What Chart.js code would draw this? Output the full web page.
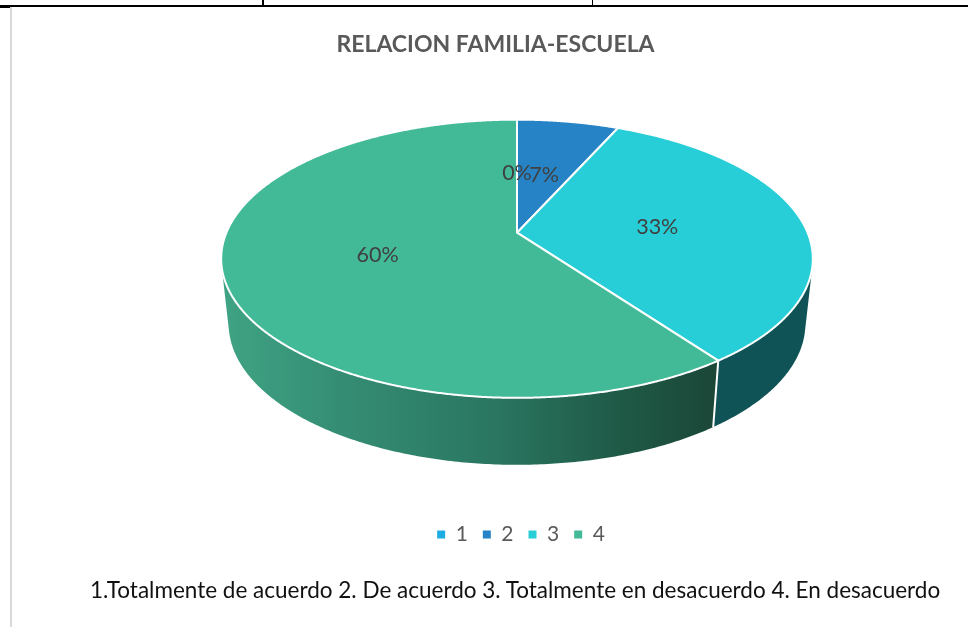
<!DOCTYPE html>
<html>
<head>
<meta charset="utf-8">
<style>
html,body{margin:0;padding:0;background:#fff;width:968px;height:627px;overflow:hidden}
.box{position:absolute}
#wrap{position:absolute;left:0;top:0;width:968px;height:627px}
#note{position:absolute;left:90px;top:575px;font:22.5px Lato,sans-serif;color:#111;white-space:nowrap;line-height:30px}
</style>
<script src="https://cdn.jsdelivr.net/npm/chart.js@4"></script>
</head>
<body>
<div class="box" style="left:0;top:5px;width:968px;height:1.5px;background:#000"></div>
<div class="box" style="left:0;top:5px;width:10px;height:2.5px;background:#000"></div>
<div class="box" style="left:262px;top:0;width:1.5px;height:6px;background:#000"></div>
<div class="box" style="left:591.5px;top:0;width:1.5px;height:6px;background:#000"></div>
<div class="box" style="left:9.5px;top:7px;width:2px;height:620px;background:#d9d9d9"></div>
<div id="wrap"><canvas id="c" width="968" height="627"></canvas></div>
<div id="note">1.Totalmente de acuerdo 2. De acuerdo 3. Totalmente en desacuerdo 4. En desacuerdo</div>
<script>
const categories = ['1', '2', '3', '4'];
const counts = [0, 2, 10, 18];
const topColors = ['#1CADE4', '#2683C6', '#27CED7', '#42BA97'];
const titleText = 'RELACION FAMILIA-ESCUELA';

const FONT = 'Lato, sans-serif';
// perspective tilt of the disc, as ratios of the library's pie radius
const REF_R = 196, REF_CY = 315;
const TILT = {
  k: -0.187,
  apex: (232 - REF_CY) / REF_R,
  top: { a: 290.3 / REF_R, b: 134.1 / REF_R, c: 0 },
  bottom: { a: 283 / REF_R, b: 124.0 / REF_R, c: 64.5 / REF_R }
};
function project(el, disc, angle, r) {
  const ux = Math.cos(angle) * r, uy = Math.sin(angle) * r;
  const w = 1 + TILT.k * uy, R = el.outerRadius;
  return {
    x: el.x + R * disc.a * ux / w,
    y: el.y + R * TILT.apex + R * (disc.b * uy + disc.c * r) / w
  };
}
function rimPoints(el, disc, a0, a1, step) {
  const n = Math.max(1, Math.ceil(Math.abs(a1 - a0) / step)), pts = [];
  for (let i = 0; i <= n; i++) pts.push(project(el, disc, a0 + (a1 - a0) * i / n, 1));
  return pts;
}
function sideFill(ctx, el, i) {
  if (i === 3) {
    const g = ctx.createLinearGradient(el.x - el.outerRadius * 1.48, 0, el.x + el.outerRadius * 1.01, 0);
    g.addColorStop(0, '#3FA283');
    g.addColorStop(0.25, '#348C72');
    g.addColorStop(0.55, '#2A7660');
    g.addColorStop(0.8, '#1F5A47');
    g.addColorStop(1, '#1B4737');
    return g;
  }
  return ['#0A4F68', '#134A6E', '#0F5357'][i];
}
function signedArea(q) {
  let s = 0;
  q.forEach((p, i) => { const n = q[(i + 1) % q.length]; s += p.x * n.y - n.x * p.y; });
  return s;
}
const pie3d = {
  id: 'pie3d',
  beforeDatasetDraw(chart, args) {
    const ctx = chart.ctx, arcs = chart.getDatasetMeta(args.index).data;
    ctx.save();
    ctx.lineJoin = 'round';
    arcs.forEach((el, i) => {
      if (el.endAngle - el.startAngle <= 0) return;
      const upper = rimPoints(el, TILT.top, el.startAngle, el.endAngle, 0.01);
      const lower = rimPoints(el, TILT.bottom, el.startAngle, el.endAngle, 0.01);
      ctx.beginPath();
      for (let j = 0; j < upper.length - 1; j++) {
        const q = [upper[j], upper[j + 1], lower[j + 1], lower[j]];
        if (signedArea(q) < 0) q.reverse();
        q.forEach((p, m) => m ? ctx.lineTo(p.x, p.y) : ctx.moveTo(p.x, p.y));
        ctx.closePath();
      }
      ctx.fillStyle = sideFill(ctx, el, i);
      ctx.fill('nonzero');
    });
    ctx.strokeStyle = '#fff';
    ctx.lineWidth = 2;
    arcs.forEach(el => {
      const a = project(el, TILT.top, el.endAngle, 1), b = project(el, TILT.bottom, el.endAngle, 1);
      ctx.beginPath(); ctx.moveTo(a.x, a.y); ctx.lineTo(b.x, b.y); ctx.stroke();
    });
    arcs.forEach(el => {
      const c = project(el, TILT.top, 0, 0);
      ctx.beginPath();
      ctx.moveTo(c.x, c.y);
      rimPoints(el, TILT.top, el.startAngle, el.endAngle, 0.005).forEach(p => ctx.lineTo(p.x, p.y));
      ctx.closePath();
      ctx.fillStyle = el.options.backgroundColor;
      ctx.fill();
      ctx.strokeStyle = '#fff';
      ctx.lineWidth = 2;
      ctx.stroke();
    });
    ctx.restore();
    return false;
  },
  afterDatasetsDraw(chart) {
    const ctx = chart.ctx, meta = chart.getDatasetMeta(0);
    const values = chart.data.datasets[0].data;
    const total = values.reduce((s, v) => s + v, 0);
    ctx.save();
    ctx.font = '21.5px ' + FONT;
    ctx.fillStyle = '#404040';
    ctx.textAlign = 'center';
    ctx.textBaseline = 'middle';
    meta.data.forEach((el, i) => {
      const p = project(el, TILT.top, (el.startAngle + el.endAngle) / 2, 0.49);
      ctx.fillText(Math.round(values[i] / total * 100) + '%', p.x, p.y + 1);
    });
    ctx.restore();
  },
  afterLayout(chart) {
    chart.titleBlock.left -= 43;
    chart.legend.left += 4;
    chart.legend.right += 4;
    chart.legend.top -= 3;
  }
};
new Chart(document.getElementById('c'), {
  type: 'pie',
  plugins: [pie3d],
  data: {
    labels: categories,
    datasets: [{ data: counts, backgroundColor: topColors, borderWidth: 0 }]
  },
  options: {
    responsive: false,
    animation: false,
    layout: { padding: { left: 66, right: 0, top: 0, bottom: 69 } },
    plugins: {
      tooltip: { enabled: false },
      title: {
        display: true,
        text: titleText,
        color: '#595959',
        font: { family: FONT, size: 23, weight: 'bold', lineHeight: 1.2 },
        padding: { top: 31, bottom: 61 }
      },
      legend: {
        position: 'bottom',
        labels: {
          boxWidth: 8,
          boxHeight: 8,
          padding: 15,
          color: '#595959',
          font: { family: FONT, size: 21 }
        }
      }
    }
  }
});
</script>
</body>
</html>
